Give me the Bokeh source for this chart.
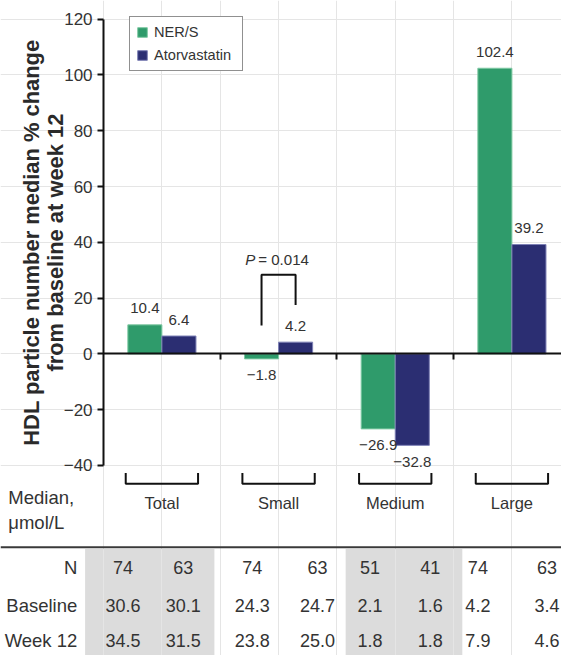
import numpy as np
from bokeh.plotting import figure
from bokeh.models import (LinearAxis, FixedTicker, ColumnDataSource, Label, Range1d)
from bokeh.core.properties import value
from bokeh.embed import file_html
from bokeh.resources import INLINE

# ---------------- data ----------------
categories = ["Total", "Small", "Medium", "Large"]
ners_change = [10.4, -1.8, -26.9, 102.4]
atorva_change = [6.4, 4.2, -32.8, 39.2]
y_ticks = [-40, -20, 0, 20, 40, 60, 80, 100, 120]
p_value_text = "= 0.014"
row_labels = ["N", "Baseline", "Week 12"]
n_values = ["74", "63", "74", "63", "51", "41", "74", "63"]
baseline_values = ["30.6", "30.1", "24.3", "24.7", "2.1", "1.6", "4.2", "3.4"]
week12_values = ["34.5", "31.5", "23.8", "25.0", "1.8", "1.8", "7.9", "4.6"]

# ---------------- layout helpers ----------------
W, H = 561, 655
REF_W, REF_H = 577, 671
AX_X, AX_Y0 = 106.0, 362.0      # reference px of the axes origin
PX_X, PX_Y = 120.0, 2.8575      # reference px per data unit


def rx(px):
    return (px - AX_X) / PX_X


def ry(py):
    return (AX_Y0 - py) / PX_Y


FS = W / REF_W


def fs(px):
    return f"{px * FS:.1f}px"


FONT = "Liberation Sans"
GREEN = "#2f9b6b"
NAVY = "#2b2e72"
TXT = "#333333"

p = figure(width=W, height=H, output_backend="svg", toolbar_location=None,
           x_range=Range1d(rx(0), rx(REF_W)), y_range=Range1d(ry(REF_H), ry(0)),
           x_axis_location=None, y_axis_location=None,
           min_border=0, min_border_left=0, min_border_right=0,
           min_border_top=0, min_border_bottom=0)
p.outline_line_color = None
p.background_fill_color = "white"

# ---------------- table shading & separator ----------------
col_px = [126, 188, 259, 326, 380, 442, 491, 562]
band_px = [(87, 220), (355, 475)]
p.quad(left=[rx(a) for a, b in band_px], right=[rx(b) for a, b in band_px],
       top=ry(562), bottom=ry(REF_H), fill_color="#dcdcdc", line_color=None,
       level="underlay")
p.line(x=[rx(0), rx(REF_W)], y=[ry(560), ry(560)], line_color="#3a3a3a", line_width=2)

# ---------------- bars ----------------
xc = np.arange(len(categories)) + 0.5
off, bw = 0.146, 0.292
ner_x = xc - off
ato_x = xc + off
p.vbar(x=ner_x, top=ners_change, bottom=0, width=bw, fill_color=GREEN,
       line_color="#7fc9a3", line_width=1, legend_label="NER/S")
p.vbar(x=ato_x, top=atorva_change, bottom=0, width=bw, fill_color=NAVY,
       line_color="#7d80b5", line_width=1, legend_label="Atorvastatin")

# value labels
vals = ners_change + atorva_change
lab_src = ColumnDataSource(dict(
    x=list(ner_x) + list(ato_x),
    y=vals,
    text=[f"{v:.1f}".replace("-", "\u2212") for v in vals],
    yoff=[-16.5 if v >= 0 else 16.5 for v in vals],
))
p.text(x="x", y="y", text="text", y_offset="yoff", source=lab_src,
       text_align="center", text_baseline="middle", text_color=TXT,
       text_font=value(FONT), text_font_size=fs(15.5))

# ---------------- axes ----------------
yaxis = LinearAxis(fixed_location=0, bounds=(-40, 120),
                   ticker=FixedTicker(ticks=y_ticks),
                   major_label_overrides={t: (f"\u2212{abs(t)}" if t < 0 else str(t)) for t in y_ticks})
yaxis.axis_line_width = 2
yaxis.axis_line_color = "#111111"
yaxis.major_tick_line_width = 2
yaxis.major_tick_line_color = "#111111"
yaxis.major_tick_out = 6
yaxis.major_tick_in = 0
yaxis.minor_tick_out = 0
yaxis.minor_tick_in = 0
yaxis.major_label_standoff = 5
yaxis.major_label_text_font = FONT
yaxis.major_label_text_font_size = fs(17.5)
yaxis.major_label_text_color = TXT
p.add_layout(yaxis, "left")

xaxis = LinearAxis(fixed_location=0, bounds=(0, rx(REF_W)),
                   ticker=FixedTicker(ticks=[1, 2, 3]),
                   major_label_overrides={1: "", 2: "", 3: ""})
xaxis.axis_line_width = 2
xaxis.axis_line_color = "#111111"
xaxis.major_tick_line_width = 2
xaxis.major_tick_line_color = "#111111"
xaxis.major_tick_out = 6
xaxis.major_tick_in = 0
xaxis.minor_tick_out = 0
xaxis.minor_tick_in = 0
xaxis.major_label_text_font_size = "1px"
p.add_layout(xaxis, "below")

# y axis title (two lines)
for txt, bx in [("HDL particle number median % change", 31.7),
                ("from baseline at week 12", 57.0)]:
    p.add_layout(Label(x=rx(bx), y=ry(248), text=txt, angle=np.pi / 2,
                       text_align="center", text_baseline="alphabetic",
                       text_font=FONT, text_font_style="bold",
                       text_font_size=fs(22.5), text_color="#2a2a2a"))

# ---------------- P value bracket ----------------
p.line(x=[ner_x[1], ner_x[1], ato_x[1], ato_x[1]],
       y=[ry(333), ry(281), ry(281), ry(312)], line_color="#111111", line_width=2)
p.text(x=[rx(262)], y=[ry(265)], text=["P"], text_align="right", text_baseline="middle",
       text_font=value(FONT), text_font_style="italic", text_font_size=fs(15.5),
       text_color=TXT)
p.text(x=[rx(265)], y=[ry(265)], text=[p_value_text], text_align="left",
       text_baseline="middle", text_font=value(FONT), text_font_size=fs(15.5),
       text_color=TXT)

# ---------------- group brackets & labels ----------------
hw = 0.31
p.multi_line(xs=[[c - hw, c - hw, c + hw, c + hw] for c in xc],
             ys=[[ry(484), ry(495), ry(495), ry(484)] for _ in xc],
             line_color="#111111", line_width=2)
p.text(x=list(xc), y=[ry(515)] * len(xc), text=categories, text_align="center",
       text_baseline="middle", text_font=value(FONT), text_font_size=fs(17),
       text_color=TXT)
p.text(x=[rx(8), rx(8)], y=[ry(509), ry(535)], text=["Median,", "\u03bcmol/L"],
       text_align="left", text_baseline="middle", text_font=value(FONT),
       text_font_size=fs(19), text_color=TXT)

# ---------------- table ----------------
row_py = [581, 620, 656]
rows = [n_values, baseline_values, week12_values]
tx, ty, tt = [], [], []
for rp, row in zip(row_py, rows):
    for cp, v in zip(col_px, row):
        tx.append(rx(cp))
        ty.append(ry(rp))
        tt.append(v)
p.text(x=tx, y=ty, text=tt, text_align="center", text_baseline="middle",
       text_font=value(FONT), text_font_size=fs(18.5), text_color=TXT)
p.text(x=[rx(79)] * 3, y=[ry(v) for v in row_py], text=row_labels, text_align="right",
       text_baseline="middle", text_font=value(FONT), text_font_size=fs(19),
       text_color=TXT)

# ---------------- legend ----------------
lg = p.legend[0]
lg.location = (129, 584)
lg.border_line_color = "#222222"
lg.border_line_width = 1.3
lg.padding = 6
lg.spacing = 5
lg.margin = 0
lg.label_height = 18
lg.glyph_height = 12
lg.glyph_width = 12
lg.label_standoff = 6
lg.label_width = 82
lg.label_text_font = FONT
lg.label_text_font_size = fs(15)
lg.label_text_color = TXT
lg.background_fill_alpha = 1.0

open("out.html", "w").write(file_html(p, INLINE))
